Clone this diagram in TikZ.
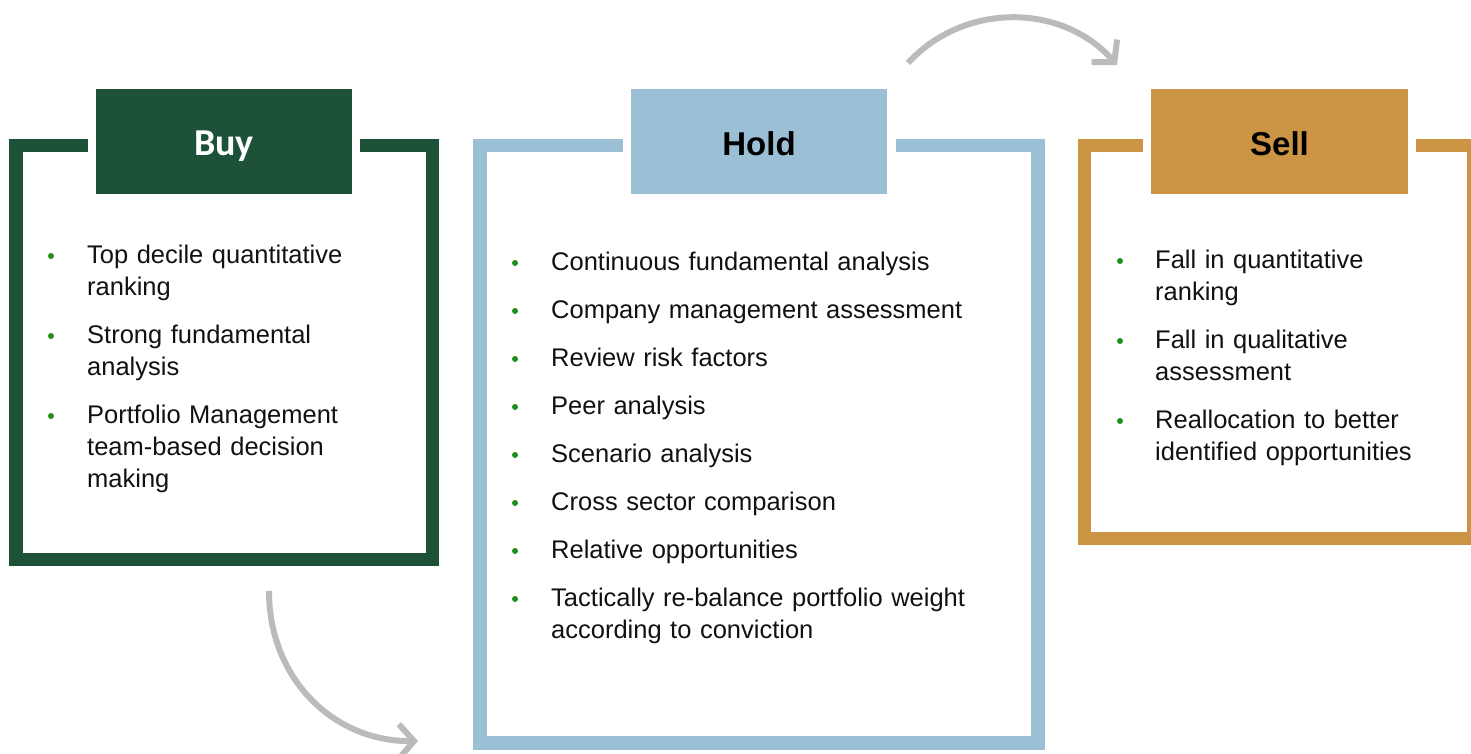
\documentclass[tikz,border=0pt]{standalone}
\usepackage{fontspec}
\setmainfont{Liberation Sans}
\newfontfamily\hdrbuyfont{Carlito}
\usetikzlibrary{arrows.meta}
\definecolor{buycol}{HTML}{1D5239}
\definecolor{holdcol}{HTML}{9BBFD4}
\definecolor{sellcol}{HTML}{CC9545}
\definecolor{dotcol}{HTML}{1F8F1F}
\definecolor{arrcol}{HTML}{BBBBBB}
\definecolor{txtcol}{HTML}{111111}
\tikzset{
  frame/.style={line width=13.5pt},
  hdrbox/.style={rectangle, minimum width=256pt, minimum height=105pt, inner sep=0pt, text height=29pt, text depth=0pt},
  itemtext/.style={anchor=base west, inner sep=0pt, text width=#1, align=left, text=txtcol, font=\fontsize{25.5pt}{32pt}\selectfont},
  itemtext/.default=400pt,
  dot/.style={circle, fill=dotcol, inner sep=0pt, minimum size=6pt},
  flow/.style={arrcol, line width=6pt, -{Straight Barb[length=15pt,width=34pt]}}
}
\begin{document}
\begin{tikzpicture}[x=1pt,y=-1pt]
\useasboundingbox (0,0) rectangle (1471,754);
\clip (0,0) rectangle (1471,754);
% frames
\draw[frame, buycol] (16,145.3) rectangle (432.3,559.5);
\draw[frame, holdcol] (480,145.5) rectangle (1038,743);
\draw[frame, sellcol] (1084.5,145.5) rectangle (1474,538.5);
% gaps around headers
\fill[white] (88,120) rectangle (360,170);
\fill[white] (623,120) rectangle (896,170);
\fill[white] (1143,120) rectangle (1416,170);
% headers
\node[hdrbox, fill=buycol, text=white, font=\hdrbuyfont\bfseries\fontsize{38pt}{38pt}\selectfont] (buyh) at (224,141.5) {Buy};
\node[hdrbox, fill=holdcol, text=black, font=\bfseries\fontsize{33pt}{33pt}\selectfont] (holdh) at (759,141.5) {Hold};
\node[hdrbox, minimum width=257pt, fill=sellcol, text=black, font=\bfseries\fontsize{33pt}{33pt}\selectfont] (sellh) at (1279.5,141.5) {Sell};
% Buy items
\node[itemtext=330pt] (b1) at (87,263) {Top decile quantitative\\ranking};
\node[itemtext=330pt] (b2) at (87,343) {Strong fundamental\\analysis};
\node[itemtext=330pt] (b3) at (87,423) {Portfolio Management\\team-based decision\\making};
\foreach \y/\n in {263/bd1,343/bd2,423/bd3} \node[dot] (\n) at (51,\y-7) {};
% Hold items
\node[itemtext=470pt] (h1) at (551,270) {Continuous fundamental analysis};
\node[itemtext=470pt] (h2) at (551,318) {Company management assessment};
\node[itemtext=470pt] (h3) at (551,366) {Review risk factors};
\node[itemtext=470pt] (h4) at (551,414) {Peer analysis};
\node[itemtext=470pt] (h5) at (551,462) {Scenario analysis};
\node[itemtext=470pt] (h6) at (551,510) {Cross sector comparison};
\node[itemtext=470pt] (h7) at (551,558) {Relative opportunities};
\node[itemtext=470pt] (h8) at (551,606) {Tactically re-balance portfolio weight\\according to conviction};
\foreach \y/\n in {270/hd1,318/hd2,366/hd3,414/hd4,462/hd5,510/hd6,558/hd7,606/hd8} \node[dot] (\n) at (515,\y-7) {};
% Sell items
\node[itemtext=300pt] (s1) at (1155,268) {Fall in quantitative\\ranking};
\node[itemtext=300pt] (s2) at (1155,348) {Fall in qualitative\\assessment};
\node[itemtext=300pt] (s3) at (1155,428) {Reallocation to better\\identified opportunities};
\foreach \y/\n in {268/sd1,348/sd2,428/sd3} \node[dot] (\n) at (1120,\y-7) {};
% arrows
\coordinate (a1s) at (269,591);
\coordinate (a1e) at (418,741);
\coordinate (a2s) at (908,63);
\coordinate (a2e) at (1117,65);
\draw[flow] (a1s) .. controls (269,680) and (335,742) .. (a1e);
\draw[flow] (a2s) .. controls (964,2) and (1062,3) .. (a2e);
\end{tikzpicture}
\end{document}
